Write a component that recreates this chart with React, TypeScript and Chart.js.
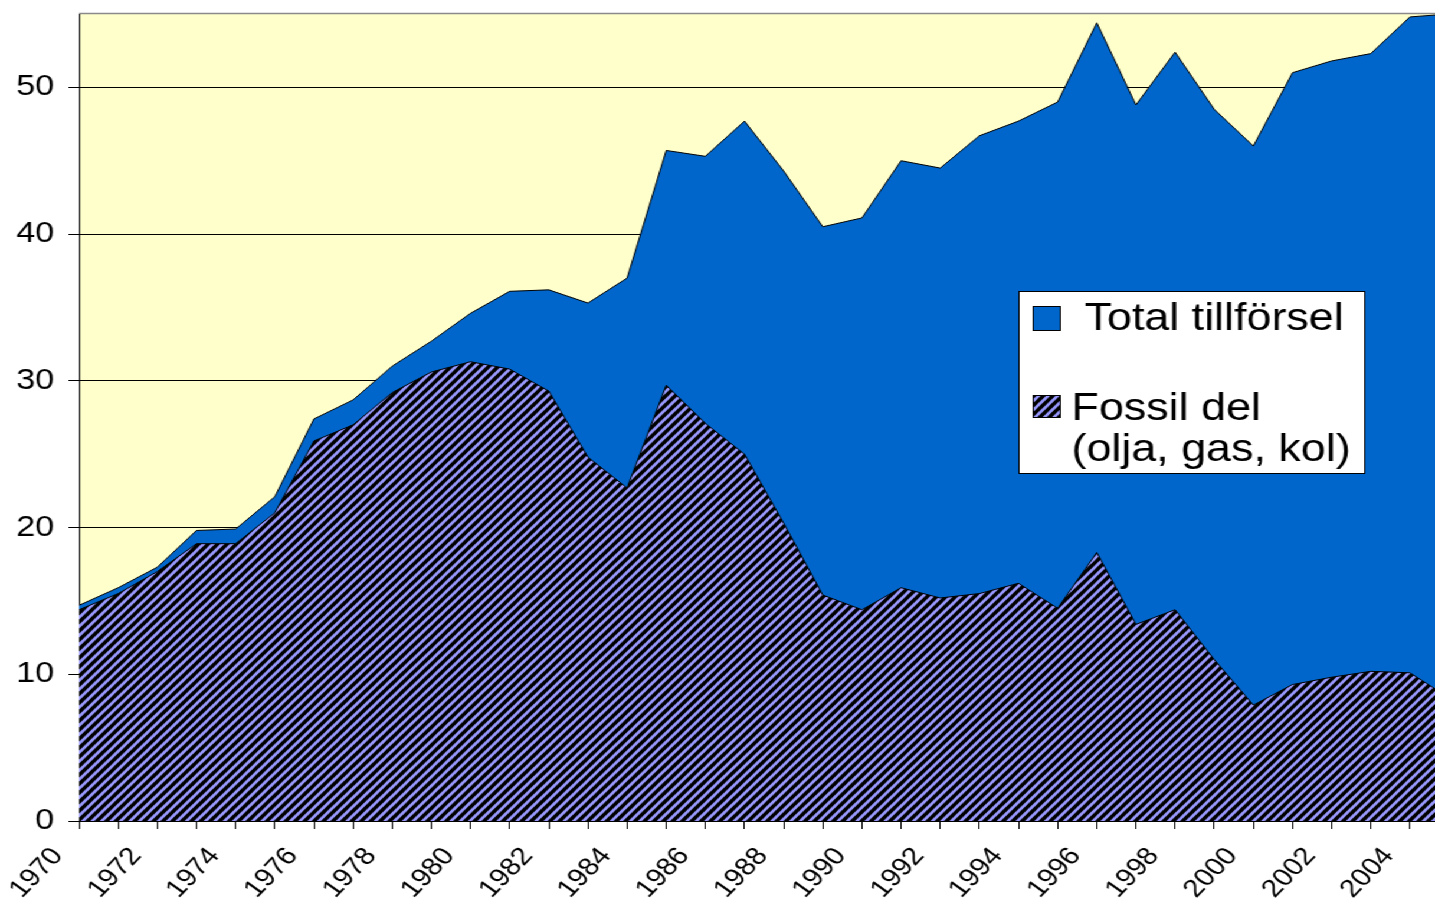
import React, { useEffect, useRef } from 'react';
import { Chart, registerables } from 'chart.js';

Chart.register(...registerables);

// ---- data ----
const years = [
  1970, 1971, 1972, 1973, 1974, 1975, 1976, 1977, 1978, 1979,
  1980, 1981, 1982, 1983, 1984, 1985, 1986, 1987, 1988, 1989,
  1990, 1991, 1992, 1993, 1994, 1995, 1996, 1997, 1998, 1999,
  2000, 2001, 2002, 2003, 2004, 2005,
];
const totalSupply = [
  14.7, 15.9, 17.3, 19.8, 19.9, 22.1, 27.4, 28.7, 31.0, 32.7,
  34.6, 36.1, 36.2, 35.3, 37.0, 45.7, 45.3, 47.7, 44.3, 40.5,
  41.1, 45.0, 44.5, 46.7, 47.7, 49.0, 54.4, 48.8, 52.4, 48.5,
  46.0, 51.0, 51.8, 52.3, 54.8, 55.0,
];
const fossilPart = [
  14.4, 15.5, 17.0, 18.9, 18.9, 21.0, 25.9, 27.0, 29.2, 30.6,
  31.3, 30.8, 29.3, 24.8, 22.7, 29.7, 27.1, 25.0, 20.3, 15.4,
  14.4, 15.9, 15.2, 15.5, 16.2, 14.5, 18.3, 13.4, 14.4, 11.0,
  7.9, 9.3, 9.8, 10.2, 10.1, 8.4,
];
const yTickValues = [0, 10, 20, 30, 40, 50];
const seriesNames = ['Total tillförsel', 'Fossil del', '(olja, gas, kol)'];

const FONT = '"Liberation Sans", Arial, Helvetica, sans-serif';
const INNER_W = 1216;
const INNER_H = 900;
const STRETCH = 1435 / INNER_W;

function makeHatch(): CanvasPattern | string {
  const W = 8;
  const H = 9;
  const c = document.createElement('canvas');
  c.width = W;
  c.height = H;
  const g = c.getContext('2d');
  if (!g) return '#555';
  g.fillStyle = '#000000';
  g.fillRect(0, 0, W, H);
  g.strokeStyle = '#9999FF';
  g.lineWidth = 2.6;
  g.beginPath();
  g.moveTo(-W / 4, H / 4); g.lineTo(W / 4, -H / 4);
  g.moveTo(-W / 4, H + H / 4); g.lineTo(W + W / 4, -H / 4);
  g.moveTo(W - W / 4, H + H / 4); g.lineTo(W + W / 4, H - H / 4);
  g.stroke();
  const pat = g.createPattern(c, 'repeat');
  return pat || '#555';
}

export default function App() {
  const ref = useRef<HTMLCanvasElement | null>(null);

  useEffect(() => {
    const canvas = ref.current;
    if (!canvas) return;
    const hatch = makeHatch();

    const bgPlugin = {
      id: 'plotBg',
      beforeDraw(chart: any) {
        const { ctx, chartArea } = chart;
        ctx.save();
        ctx.fillStyle = '#FFFFCC';
        ctx.fillRect(chartArea.left, chartArea.top, chartArea.right - chartArea.left, chartArea.bottom - chartArea.top);
        ctx.strokeStyle = '#8a8a8a';
        ctx.lineWidth = 1.5;
        ctx.beginPath();
        ctx.moveTo(chartArea.left, chartArea.top - 0.5);
        ctx.lineTo(chartArea.right, chartArea.top - 0.5);
        ctx.stroke();
        ctx.restore();
      },
    };

    const legendPlugin = {
      id: 'boxLegend',
      afterDraw(chart: any) {
        const ctx = chart.ctx;
        ctx.save();
        ctx.fillStyle = '#FFFFFF';
        ctx.fillRect(863, 291, 293, 182);
        ctx.strokeStyle = '#000000';
        ctx.lineWidth = 1;
        ctx.strokeRect(863.5, 291.5, 293, 182);
        ctx.fillStyle = '#0066CC';
        ctx.fillRect(875, 306, 23, 24);
        ctx.strokeRect(875.5, 306.5, 23, 24);
        ctx.fillStyle = hatch;
        ctx.fillRect(875, 395, 23, 22);
        ctx.strokeRect(875.5, 395.5, 23, 22);
        ctx.fillStyle = '#000000';
        ctx.font = `38px ${FONT}`;
        ctx.textBaseline = 'alphabetic';
        ctx.textAlign = 'left';
        ctx.fillText(seriesNames[0], 919, 330);
        ctx.fillText(seriesNames[1], 908, 420);
        ctx.fillText(seriesNames[2], 908, 461);
        ctx.restore();
      },
    };

    const chart = new Chart(canvas, {
      type: 'line',
      data: {
        datasets: [
          {
            label: seriesNames[1],
            data: years.map((yr, i) => ({ x: yr, y: fossilPart[i] })),
            fill: 'origin',
            backgroundColor: hatch as any,
            borderColor: '#000000',
            borderWidth: 1,
            pointRadius: 0,
            tension: 0,
          },
          {
            label: seriesNames[0],
            data: years.map((yr, i) => ({ x: yr, y: totalSupply[i] })),
            fill: 'origin',
            backgroundColor: '#0066CC',
            borderColor: '#000000',
            borderWidth: 1,
            pointRadius: 0,
            tension: 0,
          },
        ],
      },
      options: {
        responsive: false,
        animation: false,
        layout: { padding: { top: 14, left: 0, right: 0, bottom: 0 } },
        plugins: {
          legend: { display: false },
          tooltip: { enabled: false },
        },
        scales: {
          x: {
            type: 'linear',
            min: years[0],
            max: 2004.64,
            afterFit: (s: any) => {
              s.height = INNER_H - 821;
              s.paddingLeft = 0;
              s.paddingRight = 0;
              s.paddingTop = 0;
              s.paddingBottom = 0;
            },
            grid: { drawOnChartArea: false, drawTicks: true, tickLength: 8, color: '#000000' },
            border: { color: '#000000', width: 1 },
            ticks: {
              stepSize: 1,
              autoSkip: false,
              includeBounds: false,
              minRotation: 50,
              maxRotation: 50,
              padding: 13,
              labelOffset: -18,
              color: '#000000',
              font: { family: FONT, size: 25 },
              callback: (v: any) => {
                const n = Math.round(Number(v));
                return n % 2 === 0 ? String(n) : '';
              },
            },
          },
          y: {
            type: 'linear',
            min: 0,
            max: 55,
            afterFit: (s: any) => {
              s.width = 67;
              s.paddingTop = 0;
              s.paddingBottom = 0;
              s.paddingLeft = 0;
              s.paddingRight = 0;
            },
            grid: { color: '#000000', tickLength: 9, drawTicks: true },
            border: { color: '#000000', width: 1 },
            afterBuildTicks: (s: any) => { s.ticks = yTickValues.map((v) => ({ value: v })); },
            ticks: {
              stepSize: 10,
              includeBounds: false,
              padding: 12,
              color: '#000000',
              font: { family: FONT, size: 29 },
            },
          },
        },
      },
      plugins: [bgPlugin, legendPlugin],
    });

    return () => chart.destroy();
  }, []);

  return (
    <div
      style={{
        position: 'fixed',
        left: 0,
        top: 0,
        width: INNER_W,
        height: INNER_H,
        transform: `scaleX(${STRETCH})`,
        transformOrigin: '0 0',
        background: '#FFFFFF',
      }}
    >
      <canvas ref={ref} width={INNER_W} height={INNER_H} />
    </div>
  );
}
